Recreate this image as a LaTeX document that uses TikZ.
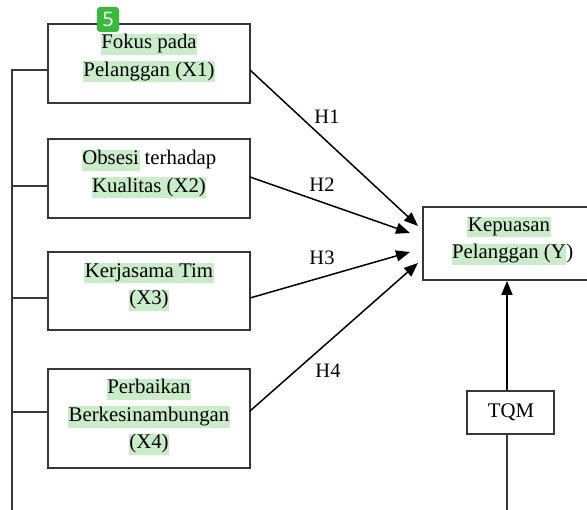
\documentclass[tikz,border=0pt]{standalone}
\usepackage{fontspec}
\setmainfont{Liberation Serif}
\newfontfamily\badgefont{Open Sans}
\usetikzlibrary{arrows.meta}
\definecolor{hlgreen}{RGB}{201,237,201}
\definecolor{badgegreen}{RGB}{58,186,58}
\definecolor{edge}{RGB}{55,55,55}
\newcommand{\hlx}[1]{{\setlength{\fboxsep}{0.6pt}\colorbox{hlgreen}{\rule[-5.5pt]{0pt}{19pt}#1}}}
\begin{document}
\begin{tikzpicture}[x=1pt,y=-1pt,
  box/.style={draw=edge,line width=1.7pt,rectangle,inner sep=0pt},
  txt/.style={align=center,font=\fontsize{20.8}{27.5}\selectfont,inner sep=0pt},
  hyp/.style={font=\fontsize{20.5}{22}\selectfont,inner sep=0pt},
  conn/.style={draw=edge,line width=1.4pt},
  arr/.style={draw=black,line width=1.5pt,-{Triangle[length=14pt,width=11pt]}}]
\useasboundingbox (0,0) rectangle (587,510);
\clip (0,0) rectangle (587,510);

% boxes
\node[box,minimum width=202pt,minimum height=79pt] (x1) at (149,63.5) {};
\node[box,minimum width=202pt,minimum height=79pt] (x2) at (149,178.5) {};
\node[box,minimum width=202pt,minimum height=78pt] (x3) at (149,291) {};
\node[box,minimum width=202pt,minimum height=99pt] (x4) at (149,418.5) {};
\node[box,minimum width=187pt,minimum height=73pt] (y) at (516.5,243.5) {};
\node[box,minimum width=87pt,minimum height=43pt] (tqm) at (510.5,412.5) {};

% texts
\node[txt] (t1) at (149,58) {\hlx{Fokus pada}\\\hlx{Pelanggan (X1)}};
\node[txt] (t2) at (149,174) {\hlx{Obsesi} terhadap\\\hlx{Kualitas (X2)}};
\node[txt] (t3) at (149,287) {\hlx{Kerjasama Tim}\\\hlx{(X3)}};
\node[txt] (t4) at (149,417) {\hlx{Perbaikan}\\\hlx{Berkesinambungan}\\\hlx{(X4)}};
\node[txt] (ty) at (509,241) {\hlx{Kepuasan}\\\hlx{Pelanggan (Y}\rlap{)}};
\node[txt] (tt) at (511,412) {TQM};

% badge
\node[fill=badgegreen,rounded corners=3pt,minimum width=22pt,minimum height=25pt,
      inner sep=0pt,text=white,font=\badgefont\fontsize{20}{20}\selectfont] (badge) at (108,19.5) {5};

% left bus
\coordinate (top) at (12,70);
\coordinate (bot) at (12,510);
\coordinate (b2) at (12,186);
\coordinate (b3) at (12,298);
\coordinate (b4) at (12,412);
\draw[conn] (top -| x1.west) -- (top) -- (bot);
\draw[conn] (b2) -- (b2 -| x2.west);
\draw[conn] (b3) -- (b3 -| x3.west);
\draw[conn] (b4) -- (b4 -| x4.west);

% hypothesis arrows
\coordinate (s1) at (250,70);
\coordinate (s2) at (250,177);
\coordinate (s3) at (250,298);
\coordinate (s4) at (250,411);
\coordinate (e1) at (418,226);
\coordinate (e2) at (410,233);
\coordinate (e3) at (410,252);
\coordinate (e4) at (418,263);
\draw[arr] (s1) -- (e1);
\draw[arr] (s2) -- (e2);
\draw[arr] (s3) -- (e3);
\draw[arr] (s4) -- (e4);
\node[hyp] (h1) at (327,117) {H1};
\node[hyp] (h2) at (322,185) {H2};
\node[hyp] (h3) at (322,258) {H3};
\node[hyp] (h4) at (328,371) {H4};

% TQM
\coordinate (q) at (507,0);
\draw[arr] (tqm.north -| q) -- (y.south -| q);
\draw[conn] (tqm.south -| q) -- (q |- bot);
\end{tikzpicture}
\end{document}
